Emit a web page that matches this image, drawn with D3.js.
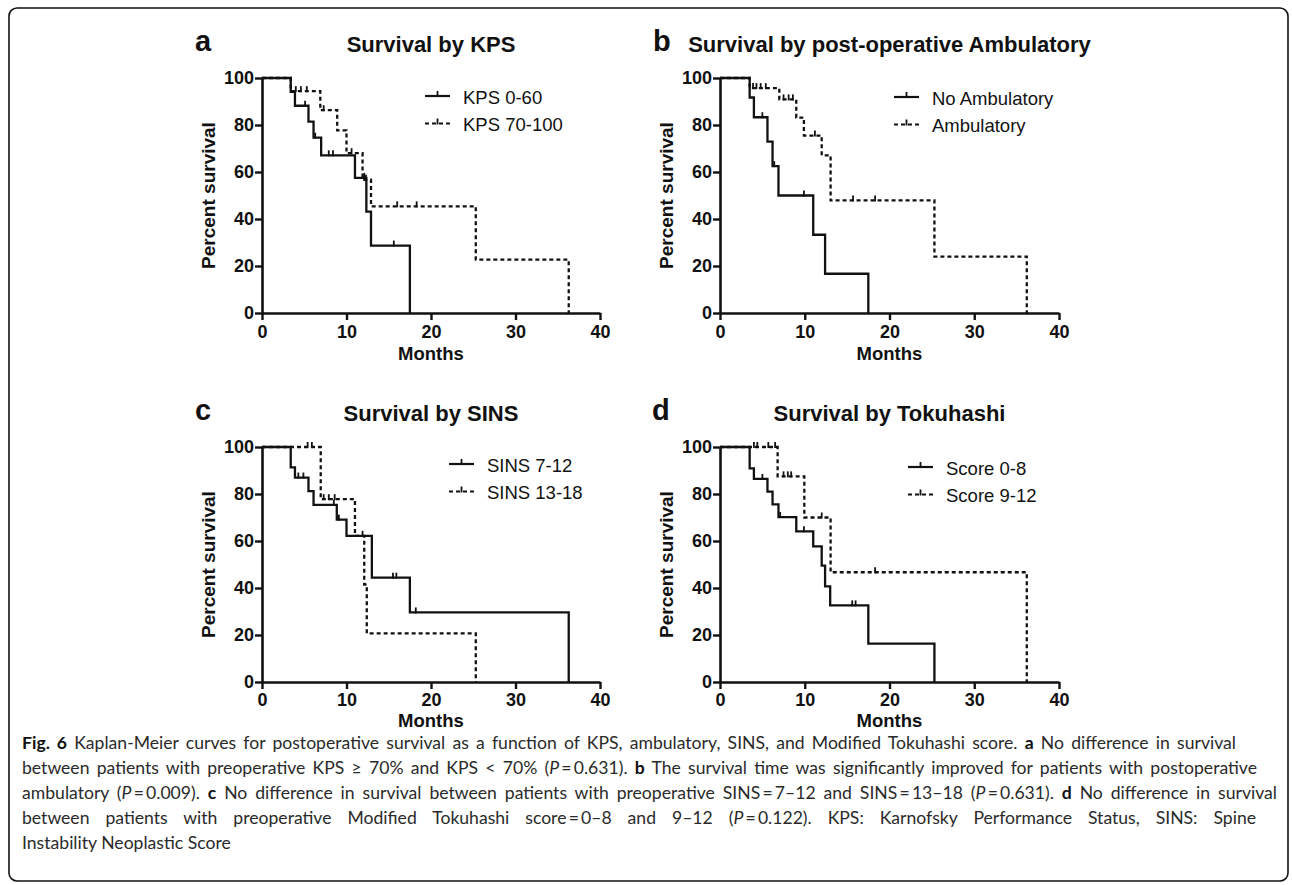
<!DOCTYPE html>
<html><head><meta charset="utf-8">
<script src="https://cdn.jsdelivr.net/npm/d3@7"></script>
<style>
body{margin:0;background:#fff;}
svg{display:block;}
</style></head><body>
<svg id="fig" width="1292" height="885"></svg>
<script>
// ---------------- data ----------------
const monthTicks = [0, 10, 20, 30, 40];
const percentTicks = [0, 20, 40, 60, 80, 100];

const panelLetters = ["a", "b", "c", "d"];
const panelTitles = ["Survival by KPS", "Survival by post-operative Ambulatory", "Survival by SINS", "Survival by Tokuhashi"];
const legendLabels = [["KPS 0-60", "KPS 70-100"], ["No Ambulatory", "Ambulatory"], ["SINS 7-12", "SINS 13-18"], ["Score 0-8", "Score 9-12"]];
const xTitle = "Months";
const yTitle = "Percent survival";

// event times (months) and survival (%) after each step, censor times (months)
const kpsLowTimes = [3.4, 3.9, 5.5, 6.1, 7.0, 11.0, 12.35, 12.9, 17.5];
const kpsLowSurv = [94.1, 88.2, 81.4, 74.6, 67.1, 57.5, 43.1, 28.7, 0];
const kpsLowCensor = [5.1, 6.3, 7.9, 8.4, 12.1, 15.6];

const kpsHighTimes = [3.4, 6.9, 8.9, 10.0, 11.9, 12.9, 25.3, 36.3];
const kpsHighSurv = [94.4, 86.3, 77.7, 68.0, 56.7, 45.4, 22.7, 0];
const kpsHighCensor = [4.0, 4.6, 5.3, 7.3, 10.6, 12.3, 16.0, 18.3];

const noAmbTimes = [3.5, 4.0, 5.6, 6.2, 6.9, 11.0, 12.4, 17.5];
const noAmbSurv = [91.7, 83.3, 72.9, 62.5, 50.0, 33.3, 16.7, 0];
const noAmbCensor = [5.0, 6.4, 9.9];

const ambTimes = [3.5, 7.0, 9.0, 9.9, 12.0, 13.05, 25.3, 36.2];
const ambSurv = [95.7, 90.9, 83.1, 75.5, 67.1, 47.9, 24.0, 0];
const ambCensor = [3.9, 4.3, 4.8, 5.4, 7.5, 8.1, 8.6, 11.2, 15.7, 18.3];

const sinsLowTimes = [3.4, 3.9, 5.5, 6.1, 8.85, 10.0, 13.0, 17.5, 36.3];
const sinsLowSurv = [91.3, 87.0, 81.2, 75.4, 69.1, 62.2, 44.4, 29.6, 0];
const sinsLowCensor = [4.3, 4.9, 8.5, 9.1, 15.5, 15.9, 18.2];

const sinsHighTimes = [6.95, 11.0, 12.1, 12.4, 25.3];
const sinsHighSurv = [77.8, 62.2, 41.5, 20.7, 0];
const sinsHighCensor = [5.4, 5.9, 7.3, 7.9, 8.6, 11.9];

const scoreLowTimes = [3.5, 4.0, 5.6, 6.2, 6.9, 9.0, 11.0, 12.0, 12.4, 13.0, 17.5, 25.3];
const scoreLowSurv = [90.9, 86.4, 81.0, 75.6, 70.2, 64.1, 57.7, 49.5, 40.7, 32.6, 16.3, 0];
const scoreLowCensor = [5.0, 7.1, 9.9, 15.6, 16.0];

const scoreHighTimes = [6.8, 9.95, 13.05, 36.2];
const scoreHighSurv = [87.5, 70.0, 46.7, 0];
const scoreHighCensor = [4.0, 4.4, 5.7, 6.5, 7.5, 8.0, 8.4, 12.0, 18.3];

const captionLines = [
  [["Fig. 6", "b"], [" Kaplan-Meier curves for postoperative survival as a function of KPS, ambulatory, SINS, and Modified Tokuhashi score. ", ""], ["a", "b"], [" No difference in survival", ""]],
  [["between patients with preoperative KPS \u2265 70% and KPS < 70% (", ""], ["P", "i"], ["\u2009=\u20090.631). ", ""], ["b", "b"], [" The survival time was significantly improved for patients with postoperative", ""]],
  [["ambulatory (", ""], ["P", "i"], ["\u2009=\u20090.009). ", ""], ["c", "b"], [" No difference in survival between patients with preoperative SINS\u2009=\u20097\u201312 and SINS\u2009=\u200913\u201318 (", ""], ["P", "i"], ["\u2009=\u20090.631). ", ""], ["d", "b"], [" No difference in survival", ""]],
  [["between patients with preoperative Modified Tokuhashi score\u2009=\u20090\u20138 and 9\u201312 (", ""], ["P", "i"], ["\u2009=\u20090.122). KPS: Karnofsky Performance Status, SINS: Spine", ""]],
  [["Instability Neoplastic Score", ""]]
];

// ---------------- layout ----------------
const panels = [
  {x0: 262, x1: 600, yTop: 78, yBot: 313, letterX: 195, legX: 425, legY: 96, tickPad: 5, monthsDy: 47,
   series: [[kpsLowTimes, kpsLowSurv, kpsLowCensor], [kpsHighTimes, kpsHighSurv, kpsHighCensor]]},
  {x0: 720, x1: 1059, yTop: 78, yBot: 313, letterX: 653, legX: 894, legY: 97, tickPad: 5, monthsDy: 47,
   series: [[noAmbTimes, noAmbSurv, noAmbCensor], [ambTimes, ambSurv, ambCensor]]},
  {x0: 262, x1: 600, yTop: 447, yBot: 682, letterX: 195, legX: 449, legY: 464, tickPad: 4, monthsDy: 44.5,
   series: [[sinsLowTimes, sinsLowSurv, sinsLowCensor], [sinsHighTimes, sinsHighSurv, sinsHighCensor]]},
  {x0: 720, x1: 1059, yTop: 447, yBot: 682, letterX: 652, legX: 908, legY: 467, tickPad: 4, monthsDy: 44.5,
   series: [[scoreLowTimes, scoreLowSurv, scoreLowCensor], [scoreHighTimes, scoreHighSurv, scoreHighCensor]]}
];
const dashes = [null, "4,3"];
const chartFont = "'Liberation Sans', Arial, Helvetica, sans-serif";
const ink = "#111";

const svg = d3.select("#fig");

// border frame
svg.append("rect").attr("x", 9).attr("y", 8).attr("width", 1279).attr("height", 873)
  .attr("rx", 8).attr("fill", "none").attr("stroke", ink).attr("stroke-width", 1.6);

function survAt(times, surv, t) {
  let s = 100;
  for (let i = 0; i < times.length; i++) { if (times[i] <= t) s = surv[i]; }
  return s;
}

panels.forEach((p, pi) => {
  const x = d3.scaleLinear().domain([0, 40]).range([p.x0, p.x1]);
  const y = d3.scaleLinear().domain([0, 100]).range([p.yBot, p.yTop]);
  const g = svg.append("g").attr("font-family", chartFont);

  // panel letter & title
  g.append("text").attr("x", p.letterX).attr("y", p.yTop - 27)
    .attr("font-size", 29).attr("font-weight", "bold").attr("fill", ink).text(panelLetters[pi]);
  g.append("text").attr("x", (p.x0 + p.x1) / 2).attr("y", p.yTop - 26)
    .attr("text-anchor", "middle").attr("font-size", 22).attr("font-weight", "bold").attr("fill", ink)
    .text(panelTitles[pi]);

  // curves
  const line = d3.line().x(d => x(d[0])).y(d => y(d[1])).curve(d3.curveStepAfter);
  p.series.forEach((s, si) => {
    const [times, surv, cens] = s;
    const pts = [[0, 100]].concat(times.map((t, i) => [t, surv[i]]));
    g.append("path").attr("d", line(pts)).attr("fill", "none").attr("stroke", ink)
      .attr("stroke-width", 2.3).attr("stroke-dasharray", dashes[si]);
    g.selectAll(null).data(cens).enter().append("line")
      .attr("x1", d => x(d)).attr("x2", d => x(d))
      .attr("y1", d => y(survAt(times, surv, d)) + 1)
      .attr("y2", d => y(survAt(times, surv, d)) - 5)
      .attr("stroke", ink).attr("stroke-width", 1.8);
  });

  // axes
  const ax = g.append("g").attr("transform", `translate(0,${p.yBot})`)
    .call(d3.axisBottom(x).tickValues(monthTicks).tickSize(7).tickPadding(p.tickPad).tickSizeOuter(0));
  const ay = g.append("g").attr("transform", `translate(${p.x0},0)`)
    .call(d3.axisLeft(y).tickValues(percentTicks).tickSize(7).tickPadding(1).tickSizeOuter(0));
  [ax, ay].forEach(a => {
    a.select(".domain").attr("stroke", ink).attr("stroke-width", 2.6);
    a.selectAll(".tick line").attr("stroke", ink).attr("stroke-width", 2.4);
    a.selectAll(".tick text").attr("font-size", 18).attr("font-weight", "bold")
      .attr("font-family", chartFont).attr("fill", ink);
  });

  // axis titles
  g.append("text").attr("x", (p.x0 + p.x1) / 2).attr("y", p.yBot + p.monthsDy)
    .attr("text-anchor", "middle").attr("font-size", 18.5).attr("font-weight", "bold").attr("fill", ink)
    .text(xTitle);
  g.append("text").attr("transform", `translate(${p.x0 - 47},${(p.yTop + p.yBot) / 2}) rotate(-90)`)
    .attr("text-anchor", "middle").attr("font-size", 19).attr("font-weight", "bold").attr("fill", ink)
    .text(yTitle);

  // legend
  legendLabels[pi].forEach((lab, li) => {
    const ly = p.legY + li * 27.5;
    g.append("line").attr("x1", p.legX).attr("x2", p.legX + 25).attr("y1", ly).attr("y2", ly)
      .attr("stroke", ink).attr("stroke-width", 2.2).attr("stroke-dasharray", dashes[li]);
    g.append("line").attr("x1", p.legX + 12.5).attr("x2", p.legX + 12.5).attr("y1", ly + 1).attr("y2", ly - 5)
      .attr("stroke", ink).attr("stroke-width", 1.8);
    g.append("text").attr("x", p.legX + 38).attr("y", ly + 7.5)
      .attr("font-size", 18.5).attr("fill", ink).text(lab);
  });
});

// caption
const capX = 22;
const capBase = 748.5;
const capStep = 25.2;
const capTargets = [1236, 1257, 1277, 1256, null];
captionLines.forEach((segs, li) => {
  const t = svg.append("text").attr("x", capX).attr("y", capBase + li * capStep)
    .attr("font-family", "Lato, 'Open Sans', sans-serif").attr("font-size", 17.6).attr("fill", "#2a2a2a");
  segs.forEach(([txt, st]) => {
    const ts = t.append("tspan").text(txt);
    if (st === "b") ts.attr("font-weight", "bold").attr("fill", "#111");
    if (st === "i") ts.attr("font-style", "italic");
  });
  if (capTargets[li]) {
    const nat = t.node().getComputedTextLength();
    const full = segs.map(s => s[0]).join("");
    const nSp = (full.match(/ /g) || []).length;
    const ws = (capTargets[li] - capX - nat) / nSp;
    t.attr("word-spacing", ws);
  }
});
</script>
</body></html>
